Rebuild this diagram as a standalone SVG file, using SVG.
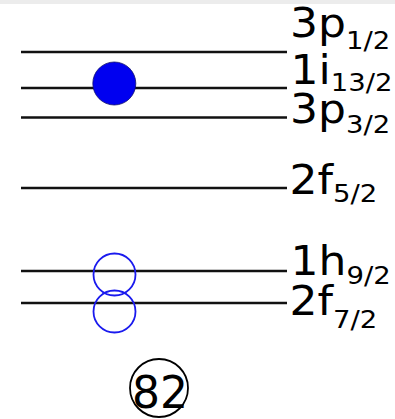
<svg xmlns="http://www.w3.org/2000/svg" width="395" height="419" viewBox="0 0 395 419">
<style>
.lvl{stroke:#111;stroke-width:2.3}
.lab{font-family:"DejaVu Sans",Verdana,sans-serif;font-size:40px;fill:#000}
.sub{font-size:25px}
.hole{fill:none;stroke:#1a1aee;stroke-width:1.8}
</style>
<rect width="395" height="419" fill="#fff"/>
<rect width="395" height="4" fill="#ececec"/>
<g id="levels">
<line class="lvl" x1="21" y1="52" x2="287" y2="52"/>
<line class="lvl" x1="21" y1="88" x2="287" y2="88"/>
<line class="lvl" x1="21" y1="117.5" x2="287" y2="117.5"/>
<line class="lvl" x1="21" y1="188" x2="287" y2="188"/>
<line class="lvl" x1="21" y1="271" x2="287" y2="271"/>
<line class="lvl" x1="21" y1="303" x2="287" y2="303"/>
</g>
<g id="labels" transform="translate(290 0) scale(1.1 1)">
<text class="lab" x="0" y="37">3p<tspan class="sub" dy="12">1/2</tspan></text>
<text class="lab" x="0.5" y="84">1i<tspan class="sub" dy="7">13/2</tspan></text>
<text class="lab" x="0" y="123">3p<tspan class="sub" dy="10">3/2</tspan></text>
<text class="lab" x="-0.5" y="194">2f<tspan class="sub" dy="8">5/2</tspan></text>
<text class="lab" x="0.5" y="275">1h<tspan class="sub" dy="9">9/2</tspan></text>
<text class="lab" x="-0.5" y="315">2f<tspan class="sub" dy="13">7/2</tspan></text>
</g>
<g id="particle"><circle cx="114.3" cy="83.5" r="21.5" fill="#0000f0" stroke="#10106a" stroke-width="0.8"/></g>
<g id="hole1"><circle class="hole" cx="114.5" cy="274.5" r="21"/></g>
<g id="hole2"><circle class="hole" cx="114.5" cy="311.5" r="21"/></g>
<g id="magic">
<circle cx="159" cy="388" r="29" fill="none" stroke="#000" stroke-width="1.8"/>
<text x="160" y="408" text-anchor="middle" font-family="DejaVu Sans,Verdana,sans-serif" font-size="44">82</text>
</g>
</svg>
